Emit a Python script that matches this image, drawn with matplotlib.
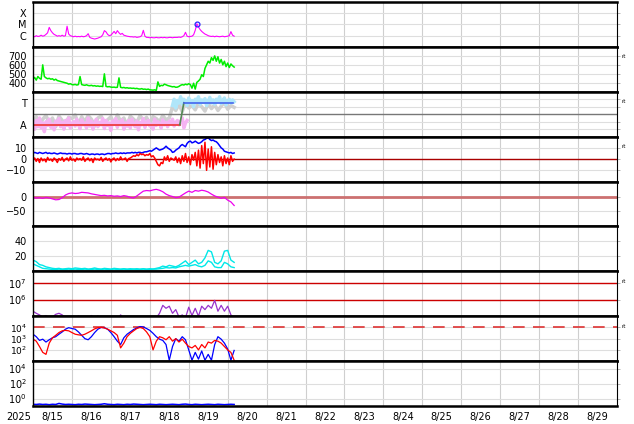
import matplotlib
matplotlib.use('Agg')
import matplotlib.pyplot as plt
import matplotlib.transforms as mtransforms
from matplotlib.ticker import FixedLocator
import numpy as np

# hours since 2025-08-15 00:00
hours_1h = np.arange(0, 125)
hours_2h = np.arange(0, 125, 2)

date_labels = ['8/%d' % d for d in range(15, 30)]
year_label = '2025'

# x-ray flux, units of 1e-6 W/m2 (hourly)
xray = [0.9, 0.8, 1.0, 0.85, 0.9, 1.1, 0.9, 1.0, 1.3, 1.8,
        5.5, 2.8, 1.8, 1.3, 1.1, 0.9, 1.0, 0.9, 1.1, 0.9,
        1.0, 7.0, 1.4, 1.0, 0.9, 0.8, 0.9, 0.8, 0.85, 0.8,
        0.9, 0.8, 0.85, 1.0, 1.5, 0.7, 0.6, 0.55, 0.5, 0.55,
        0.6, 0.7, 0.8, 1.2, 2.8, 2.2, 1.3, 1.0, 1.1, 1.6,
        2.4, 1.5, 2.8, 1.8, 1.3, 1.6, 1.1, 1.0, 0.9, 0.85,
        0.8, 0.8, 0.75, 0.8, 0.7, 0.75, 0.8, 1.0, 3.0, 0.9,
        0.7, 0.7, 0.65, 0.7, 0.65, 0.65, 0.7, 0.65, 0.65, 0.7,
        0.65, 0.7, 0.65, 0.65, 0.7, 0.7, 0.65, 0.7, 0.7, 0.7,
        0.75, 0.7, 0.8, 1.0, 2.0, 0.9, 0.8, 0.85, 0.9, 1.2,
        3.0, 11.5, 6.0, 3.5, 2.4, 1.8, 1.4, 1.2, 1.0, 0.9,
        0.85, 0.9, 0.8, 0.9, 0.85, 0.8, 0.85, 0.9, 0.8, 0.85,
        0.9, 1.0, 2.3, 1.1, 0.9]
flare_hours = [101]
flare_peak = [11.5]

# solar wind speed km/s (hourly)
speed = [440, 460, 430, 470, 450, 440, 600, 470, 455, 445,
         450, 440, 445, 430, 440, 425, 420, 415, 410, 405,
         400, 395, 385, 390, 380, 378, 382, 375, 380, 470,
         380, 375, 372, 378, 370, 368, 372, 365, 368, 362,
         365, 360, 362, 358, 500, 360, 355, 358, 352, 350,
         352, 348, 350, 455, 350, 345, 348, 342, 345, 340,
         342, 338, 340, 335, 338, 332, 330, 335, 328, 330,
         325, 330, 322, 320, 318, 322, 315, 410, 360, 372,
         368, 385, 378, 370, 365, 360, 355, 358, 350, 352,
         360, 372, 380, 375, 385, 378, 390, 380, 340, 395,
         330, 405, 420, 440, 490, 470, 560, 600, 640, 620,
         680, 650, 700, 640, 690, 620, 660, 600, 640, 580,
         620, 570, 610, 590, 575]

# IMF angle (deg): pink source h0-95, light blue source h86-124 (hourly)
phi_away = [100, 60, 130, 80, 150, 70, 110, 40, 120, 90,
            140, 75, 100, 55, 125, 95, 145, 80, 115, 60,
            130, 90, 150, 70, 105, 120, 85, 140, 100, 65,
            135, 95, 110, 70, 150, 85, 125, 60, 105, 140,
            80, 115, 95, 145, 65, 130, 90, 110, 50, 125,
            100, 145, 75, 120, 95, 135, 60, 110, 85, 130,
            70, 140, 100, 80, 125, 55, 115, 95, 145, 75,
            110, 130, 85, 100, 60, 140, 90, 120, 105, 70,
            135, 95, 115, 80, 125, 100, 140, 85, 110, 130,
            95, 120, 150, 70, 110, 130]
phi_toward = [250, 300, 230, 290, 270, 320, 260, 300, 280, 250,
              310, 270, 290, 240, 300, 280, 320, 260, 295, 275,
              305, 250, 285, 315, 270, 295, 260, 300, 280, 320,
              265, 290, 310, 255, 285, 300, 270, 295, 280]
phi_grey = [120, 160, 90, 140, 170, 110, 150, 80, 165, 130, 100, 155, 145, 175, 95,
            160, 120, 170, 140, 85, 150, 165, 110, 135, 160, 100, 175, 125, 150, 90,
            165, 140, 115, 170, 130, 155, 105, 160, 145, 120, 170, 135, 150,
            240, 210, 260, 200, 280, 230, 250, 215, 270, 240, 205, 265, 225, 255,
            210, 245, 275, 220, 250, 235]
sector_hours = [0, 90.5, 93, 123.5]
sector_phi = [96, 96, 272, 272]

# IMF Bt and Bz, nT (hourly)
bt = [5, 6, 5.5, 5, 6, 5.5, 5, 5.5, 6, 5,
      5.5, 5, 5, 5.5, 5, 4.5, 5, 5.5, 5, 5,
      5, 4.5, 5, 5, 4.5, 5, 5, 4.5, 4.5, 5,
      5, 4.5, 4.5, 5, 4.5, 4, 4.5, 4.5, 4, 4.5,
      4.5, 4, 4.5, 4.5, 4, 4.5, 5, 5, 4.5, 5,
      5, 5.5, 5, 5, 5.5, 5, 5.5, 5, 5.5, 5.5,
      5.5, 6, 5.5, 6, 5.5, 6, 6, 5.5, 6, 6.5,
      6.5, 7, 7.5, 7, 8, 9, 10, 9, 8, 8.5,
      9, 10, 11.5, 10, 9, 8, 6, 6.5, 8, 9,
      10, 12, 13, 12, 11, 14, 15.5, 16, 14.5, 15,
      16, 15, 14, 14.5, 15.5, 17, 17.5, 18.5, 19, 17.5,
      16.5, 17, 16, 15.5, 14, 12, 10, 9, 7, 6.5,
      6, 5.5, 6, 5, 5.5]
bz = [-1, 1, -2, 0.5, -3, 1, -1.5, 0, -2.5, 1.5,
      -1, 0, -2, 1, -0.5, -3, 0.5, -1, 1.5, -2,
      0, 1, -1.5, 2, -1, 0, -2, 1, -0.5, 0.5,
      -1, 2, -2, 0, 1, -1.5, 0.5, -3, 1, -0.5,
      0, -1, 1.5, -2, 0, 1, -1, 0.5, -2.5, 0,
      1, -1.5, 0.5, -1, 2, -0.5, 0, 1, -2, 0.5,
      1, 2, 3, 2.5, 4, 3, 5, 4, 4.5, 3,
      4, 3.5, 5, 2, 3, 1, -2, -5, -6, -3,
      -4, 2, -1, 3, -2, 1, 0, -1, 2, -3,
      1, -4, 3, -2, 5, -3, 2, -5, 4, -1,
      6, -6, 8, -8, 12, -4, 15, -10, 9, -7,
      11, -9, 6, -5, 4, -3, 2, -6, 3, -4,
      1, -5, 3, -2, 0]

# Dst-like index, nT (2-hourly)
dst = [-3, -5, -4, -6, -3, -5, -8, -11, -10, -4, 5, 10, 12, 10, 11, 14, 13, 12,
       9, 7, 5, 3, 4, 2, 3, 1, 2, 0, 3, 1, -3, -5, 2, 10, 18, 20, 19, 22, 24, 21,
       16, 8, 3, 0, -4, -2, 5, 12, 18, 14, 20, 18, 21, 19, 15, 8, 2, -2, -6, -3,
       -12, -18, -30]

# cyan panel, two series (2-hourly)
cyan_a = [15, 13, 9, 8, 6, 5, 4, 3.5, 4, 3, 3.5, 4, 3.5, 4.5, 4, 3.5, 4, 3, 3.5,
          4.5, 3.5, 3, 4, 3.5, 3, 4, 3.5, 3, 3.5, 3, 3.5, 3, 3.5, 3, 3.5, 3, 3.5,
          3, 4, 5, 7, 6, 8, 7, 6, 8, 11, 14, 9, 12, 15, 10, 12, 18, 28, 26, 12, 10,
          14, 27, 28, 15, 12]
cyan_b = [10, 8, 6, 4, 3.5, 3, 2.5, 2.5, 3, 2.5, 2.5, 3, 2.5, 3, 2.5, 2.5, 3, 2.5,
          2.5, 3, 2.5, 2.5, 3, 2.5, 2.5, 3, 2.5, 2.5, 3, 2.5, 2.5, 3, 2.5, 2.5, 3,
          2.5, 2.5, 3, 3, 3.5, 4, 5, 4.5, 5, 4.5, 6, 7, 8, 7, 8, 9, 7, 6, 8, 14, 12,
          6, 5, 5, 12, 10, 6, 5]

# electron flux, units of 1e5 (2-hourly)
electron = [2.0, 1.5, 1.2, 0.9, 1.1, 0.8, 0.9, 1.3, 1.5, 1.2, 0.8, 0.7, 0.8, 0.7,
            1.05, 0.7, 0.6, 0.8, 1.1, 0.8, 1.05, 0.7, 0.6, 0.7, 0.6, 0.6, 0.7, 1.2,
            0.8, 0.6, 0.5, 0.5, 0.6, 0.5, 0.5, 0.6, 0.5, 0.6, 0.8, 1.5, 4.5, 3.0,
            4.0, 1.5, 2.5, 0.9, 1.2, 0.8, 3.5, 1.1, 3.0, 1.0, 4.0, 2.5, 4.5, 3.0,
            9.0, 2.0, 4.5, 2.0, 4.0, 1.2, 0.8]

# panel 8 flux, two series (2-hourly)
flux_blue = [2500, 1500, 700, 900, 500, 800, 1200, 1500, 2500, 4000, 7000, 9500,
             8000, 7000, 4000, 2000, 1000, 800, 1500, 3500, 7000, 10000, 9500, 7000,
             3500, 1500, 600, 300, 1200, 2500, 4000, 6500, 9000, 12000, 11000, 8000,
             5500, 3000, 1500, 900, 700, 300, 12, 200, 1000, 600, 1500, 800, 100, 12,
             60, 15, 80, 12, 40, 12, 300, 1500, 900, 400, 120, 12, 90]
flux_red = [900, 600, 200, 60, 40, 400, 1200, 2000, 3500, 5000, 5500, 5000, 3500,
            2500, 2200, 2000, 2500, 3500, 5000, 7500, 9500, 10000, 9000, 7000, 5000,
            3500, 2000, 150, 400, 1500, 3000, 5000, 8000, 10000, 8000, 4000, 1500,
            100, 600, 1500, 1200, 800, 1500, 600, 1000, 500, 900, 400, 200, 150, 250,
            100, 300, 150, 500, 400, 700, 600, 400, 200, 100, 60, 12]

# panel 9 (2-hourly)
bottom_flux = [0.17, 0.16, 0.18, 0.16, 0.17, 0.15, 0.17, 0.16, 0.22, 0.18, 0.16,
               0.17, 0.16, 0.15, 0.17, 0.16, 0.18, 0.17, 0.16, 0.15, 0.16, 0.17,
               0.2, 0.17, 0.16, 0.15, 0.17, 0.16, 0.15, 0.17, 0.16, 0.18, 0.17,
               0.16, 0.15, 0.16, 0.17, 0.16, 0.15, 0.17, 0.16, 0.15, 0.16, 0.17,
               0.16, 0.15, 0.17, 0.18, 0.16, 0.15, 0.17, 0.16, 0.15, 0.16, 0.17,
               0.16, 0.15, 0.17, 0.16, 0.15, 0.16, 0.17, 0.16]

t1 = hours_1h / 24.0
t2 = hours_2h / 24.0

fig, axes = plt.subplots(9, 1, figsize=(6.34, 4.24), dpi=100, sharex=True)
fig.subplots_adjust(left=33/634, right=617/634, top=1-2/424, bottom=1-406/424, hspace=0)

grid_x = '#cfcfcf'
grid_y = '#dedede'
for ax in axes:
    ax.set_xlim(0, 15)
    ax.spines['top'].set_linewidth(1.8)
    ax.spines['bottom'].set_linewidth(1.8)
    ax.spines['left'].set_linewidth(1.0)
    ax.spines['right'].set_linewidth(0.8)
    ax.xaxis.set_major_locator(FixedLocator(np.arange(0.5, 15, 1)))
    ax.xaxis.set_minor_locator(FixedLocator(np.arange(1, 15, 1)))
    ax.tick_params(axis='x', which='both', length=0, labelsize=7, pad=4)
    ax.tick_params(axis='y', which='both', left=False, right=True, length=2.5,
                   width=0.6, color='#aaaaaa', labelsize=7, pad=2)
    ax.grid(which='minor', axis='x', color=grid_x, lw=0.8)
    ax.grid(which='major', axis='y', color=grid_y, lw=0.8)
    ax.set_axisbelow(True)

# 1: x-ray
ax = axes[0]
ax.plot(t1, np.array(xray) * 1e-6, color='#ff00ff', lw=0.8)
ax.plot(np.array(flare_hours) / 24.0, np.array(flare_peak) * 1e-6, 'o', mfc='none',
        mec='#2222ff', ms=3.5, mew=0.9)
ax.set_yscale('log')
ax.set_ylim(1e-7, 1e-3)
ax.yaxis.set_major_locator(FixedLocator([1e-6, 1e-5, 1e-4]))
ax.yaxis.set_minor_locator(FixedLocator([]))
ax.set_yticklabels(['C', 'M', 'X'])

# 2: speed
ax = axes[1]
ax.plot(t1, speed, color='#00ee00', lw=1.1)
ax.set_ylim(300, 800)
ax.set_yticks([400, 500, 600, 700])

# 3: IMF sector
ax = axes[2]
ax.plot(t2, phi_grey, color='#d0d0d0', lw=2.5)
ax.plot(t1[:len(phi_away)], phi_away, color='#f5b3f2', lw=2.5)
ax.plot(t1[86:], phi_toward, color='#b0e6fa', lw=2.5)
ax.axhline(180, color='#777777', lw=1.0)
seg_colors = ['#ee3333', '#558855', '#4466ee']
sh = np.array(sector_hours) / 24.0
for i in range(3):
    ax.plot(sh[i:i + 2], sector_phi[i:i + 2], color=seg_colors[i], lw=1.2)
ax.set_ylim(0, 360)
ax.yaxis.set_major_locator(FixedLocator([90, 270]))
ax.set_yticklabels(['A', 'T'])
ax.yaxis.set_minor_locator(FixedLocator([60, 120, 240, 300]))
ax.grid(which='major', axis='y', visible=False)
ax.grid(which='minor', axis='y', color=grid_y, lw=0.8)
ax.tick_params(axis='y', which='major', right=False)

# 4: Bt / Bz
ax = axes[3]
ax.axhline(0, color='#aa0000', lw=1.0)
ax.plot(t1, bt, color='#0000ff', lw=1.1)
ax.plot(t1, bz, color='#ff0000', lw=1.1)
ax.set_ylim(-20, 20)
ax.set_yticks([-10, 0, 10])
ax.set_yticklabels(['\u221210', '0', '10'])

# 5: Dst
ax = axes[4]
ax.axhline(0, color='#cc7070', lw=2.0)
ax.plot(t2, dst, color='#ee00ee', lw=0.9)
ax.set_ylim(-100, 50)
ax.set_yticks([-50, 0])
ax.set_yticklabels(['\u221250', '0'])

# 6: cyan
ax = axes[5]
ax.plot(t2, cyan_b, color='#00e8e8', lw=1.0)
ax.plot(t2, cyan_a, color='#00e8e8', lw=1.0)
ax.set_ylim(0, 60)
ax.set_yticks([20, 40])

# 7: electrons
ax = axes[6]
ax.axhline(1e6, color='#cc0000', lw=1.0)
ax.axhline(1e7, color='#cc0000', lw=1.0)
ax.plot(t2, np.array(electron) * 1e5, color='#9933cc', lw=0.9)
ax.set_yscale('log')
ax.set_ylim(1e5, 5e7)
ax.yaxis.set_major_locator(FixedLocator([1e6, 1e7]))
ax.yaxis.set_minor_locator(FixedLocator([]))
ax.set_yticklabels(['$10^6$', '$10^7$'])

# 8: flux
ax = axes[7]
ax.axhline(1e4, color='#dd3333', lw=1.2, dashes=(7, 5))
ax.plot(t2, flux_blue, color='#0000ff', lw=0.9)
ax.plot(t2, flux_red, color='#ff0000', lw=0.9)
ax.set_yscale('log')
ax.set_ylim(1e1, 1e5)
ax.yaxis.set_major_locator(FixedLocator([1e2, 1e3, 1e4]))
ax.yaxis.set_minor_locator(FixedLocator([]))
ax.set_yticklabels(['$10^2$', '$10^3$', '$10^4$'])
ax.tick_params(axis='y', labelsize=6.5)

# 9: bottom
ax = axes[8]
ax.plot(t2, bottom_flux, color='#0000ff', lw=1.1)
ax.set_yscale('log')
ax.set_ylim(1e-1, 1e5)
ax.yaxis.set_major_locator(FixedLocator([1e0, 1e2, 1e4]))
ax.yaxis.set_minor_locator(FixedLocator([]))
ax.set_yticklabels(['$10^0$', '$10^2$', '$10^4$'])
ax.set_xticklabels(date_labels)
trans = mtransforms.blended_transform_factory(ax.transData, ax.transAxes)
ax.text(-0.38, -0.24, year_label, transform=trans, ha='center', va='center',
        fontsize=7, clip_on=False)

for i in [1, 2, 3, 6, 7]:
    axes[i].text(1.008, 0.78, 'rt', transform=axes[i].transAxes, fontsize=4,
                 va='center', ha='left')

fig.savefig('out.png', dpi=100)
